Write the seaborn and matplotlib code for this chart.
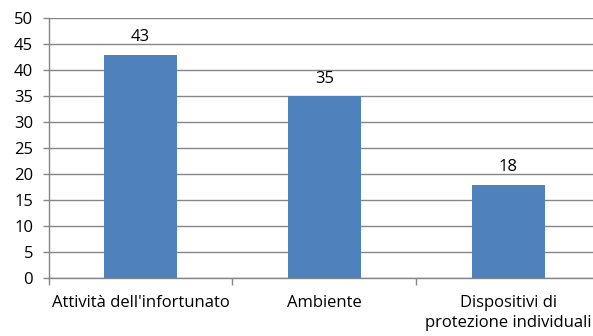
import matplotlib
matplotlib.use("Agg")
import matplotlib.pyplot as plt
import seaborn as sns
import pandas as pd
from matplotlib import font_manager

categories = ["Attività dell'infortunato", "Ambiente", "Dispositivi di\nprotezione individuali"]
values = [43, 35, 18]
yticks = [0, 5, 10, 15, 20, 25, 30, 35, 40, 45, 50]

sns.set_theme(style="white")
names = {f.name for f in font_manager.fontManager.ttflist}
fam = [f for f in ["Liberation Sans Narrow", "Open Sans", "DejaVu Sans"] if f in names]
plt.rcParams["font.family"] = fam

df = pd.DataFrame({"cat": categories, "val": values})

fig = plt.figure(figsize=(5.93, 3.36), dpi=100)
ax = fig.add_axes([48.5 / 593, 1 - 278.3 / 336, 552 / 593, 260 / 336])

sns.barplot(data=df, x="cat", y="val", color="#4F81BD", width=0.4,
            saturation=1, linewidth=0, ax=ax, zorder=3)
ax.set_xlim(-0.5, 2.5)
ax.set_ylim(0, 50)
ax.set_yticks(yticks)
ax.set_xlabel("")
ax.set_ylabel("")

ax.grid(axis="y", color="#868686", linewidth=1, zorder=0)
ax.set_axisbelow(True)
for s in ["top", "right"]:
    ax.spines[s].set_visible(False)
ax.spines["left"].set_color("#868686")
ax.spines["bottom"].set_color("#868686")
ax.spines["left"].set_linewidth(1)
ax.spines["bottom"].set_linewidth(1)

ax.tick_params(axis="y", which="major", length=4, width=1, color="#868686",
               labelsize=12, labelcolor="#000000", pad=7, left=True)
ax.tick_params(axis="x", which="major", length=0, labelsize=12,
               labelcolor="#000000", pad=12)
ax.set_xticks([-0.5, 0.5, 1.5, 2.5], minor=True)
ax.tick_params(axis="x", which="minor", length=5, width=1, color="#868686",
               bottom=True)
for lbl in ax.get_xticklabels():
    lbl.set_verticalalignment("top")
    lbl.set_linespacing(1.35)

for i, v in enumerate(values):
    ax.annotate(str(v), (i, v), xytext=(0, 7), textcoords="offset points",
                ha="center", va="bottom", fontsize=12, color="#000000")

fig.savefig("out.png", dpi=100)
